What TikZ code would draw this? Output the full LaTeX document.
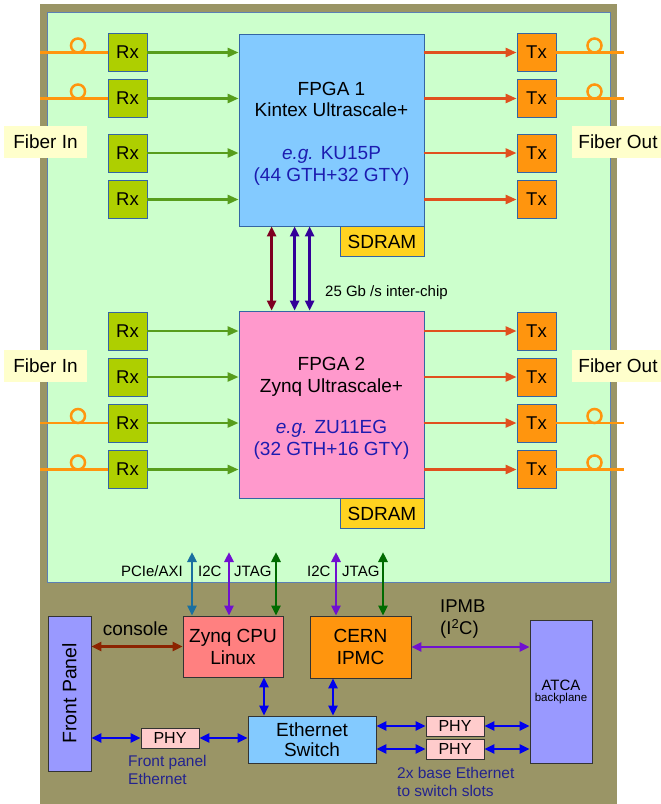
\documentclass[tikz,border=0pt]{standalone}
\usepackage{fontspec}
\setmainfont{Liberation Sans}
\usetikzlibrary{arrows.meta}
\definecolor{olive}{HTML}{9A9566}
\definecolor{panel}{HTML}{CCFFCC}
\definecolor{panelborder}{HTML}{5B7FB5}
\definecolor{boxblue}{HTML}{3465A4}
\definecolor{rxgreen}{HTML}{AECF00}
\definecolor{txorange}{HTML}{FF950E}
\definecolor{fpgablue}{HTML}{83CAFF}
\definecolor{fpgapink}{HTML}{FF99CC}
\definecolor{sdramgold}{HTML}{FFD320}
\definecolor{fiber}{HTML}{FF950E}
\definecolor{rxarrow}{HTML}{579D1C}
\definecolor{txarrow}{HTML}{E0501E}
\definecolor{darkred}{HTML}{7E0021}
\definecolor{indigo}{HTML}{330099}
\definecolor{zynqred}{HTML}{FF8080}
\definecolor{lavender}{HTML}{9999FF}
\definecolor{phypink}{HTML}{FFCCCC}
\definecolor{ethblue}{HTML}{0000EE}
\definecolor{teal}{HTML}{1A6FA0}
\definecolor{purp}{HTML}{7010D0}
\definecolor{jtaggreen}{HTML}{006B00}
\definecolor{consolec}{HTML}{8C2300}
\definecolor{labelyellow}{HTML}{FFFFCC}
\definecolor{textblue}{HTML}{1C1CB0}
\definecolor{notelue}{HTML}{23238E}
\tikzset{
  x=1pt, y=-1pt,
  box/.style={draw=boxblue, line width=0.8pt, inner sep=0pt, align=center},
  darkbox/.style={draw=black!80, line width=0.8pt, inner sep=0pt, align=center},
  rxbox/.style={box, fill=rxgreen, minimum width=39pt, minimum height=38pt, font=\fontsize{18.5}{20}\selectfont},
  txbox/.style={box, fill=txorange, minimum width=39pt, minimum height=38pt, font=\fontsize{18.5}{20}\selectfont},
  fpgabox/.style={box, minimum width=185pt},
  fpgatext/.style={align=center, inner sep=0pt, font=\fontsize{19}{21.5}\selectfont},
  sdrambox/.style={box, fill=sdramgold, minimum width=84pt, minimum height=30pt, font=\fontsize{19}{20}\selectfont, anchor=north east},
  fiberlabel/.style={fill=labelyellow, inner sep=0pt, minimum height=32pt, font=\fontsize{19}{20}\selectfont},
  fiberline/.style={draw=fiber, line width=2.5pt},
  loopc/.style={draw=fiber, line width=2.5pt},
  arr/.style={-{Triangle[length=11pt,width=9pt]}, line width=2.5pt},
  dbl/.style={{Triangle[length=10pt,width=9pt]}-{Triangle[length=10pt,width=9pt]}, line width=2.5pt},
  small/.style={font=\fontsize{15}{17}\selectfont, inner sep=0pt},
  note/.style={font=\fontsize{15.5}{18}\selectfont, text=notelue, align=left, inner sep=0pt, anchor=north west},
  phybox/.style={darkbox, fill=phypink, minimum width=58pt, minimum height=20pt, font=\fontsize{16}{17}\selectfont},
}
\begin{document}
\begin{tikzpicture}
\useasboundingbox (0,0) rectangle (661,804);
% frame and panel
\fill[olive] (40,4) rectangle (617,804);
\filldraw[fill=panel, draw=panelborder, line width=0.8pt] (47,12) rectangle (610,582);

% FPGA 1
\node[fpgabox, fill=fpgablue, minimum height=192pt] (f1) at (331.5,130) {};
\node[fpgatext] (f1t) at ([yshift=-3.5pt]f1.center)
  {FPGA 1\\Kintex Ultrascale+\\[21.5pt]\textcolor{textblue}{\textit{e.g.} KU15P}\\\textcolor{textblue}{(44 GTH+32 GTY)}};
\node[sdrambox] (sd1) at (f1.south east) {SDRAM};
% FPGA 2
\node[fpgabox, fill=fpgapink, minimum height=187pt] (f2) at (331.5,404.5) {};
\node[fpgatext] (f2t) at ([yshift=-4pt]f2.center)
  {FPGA 2\\Zynq Ultrascale+\\[20pt]\textcolor{textblue}{\textit{e.g.} ZU11EG}\\\textcolor{textblue}{(32 GTH+16 GTY)}};
\node[sdrambox] (sd2) at (f2.south east) {SDRAM};

% Rx / Tx top
\foreach \i/\y in {1/52.5,2/98.5,3/153,4/199.5}{
  \node[rxbox] (rxa\i) at (127.5,\y) {Rx};
  \node[txbox] (txa\i) at (536.5,\y) {Tx};
  \draw[arr, rxarrow] (rxa\i.east) -- (rxa\i.east -| f1.west);
  \draw[arr, txarrow] (txa\i.west -| f1.east) -- (txa\i.west);
}
\foreach \i/\y in {1/331,2/377,3/423,4/469.5}{
  \node[rxbox] (rxb\i) at (127.5,\y) {Rx};
  \node[txbox] (txb\i) at (536.5,\y) {Tx};
  \draw[arr, rxarrow] (rxb\i.east) -- (rxb\i.east -| f2.west);
  \draw[arr, txarrow] (txb\i.west -| f2.east) -- (txb\i.west);
}

% fibers
\foreach \r in {rxa1,rxa2,rxb3,rxb4}{
  \coordinate (in-\r) at (40,0 |- \r.west);
  \draw[fiberline] (in-\r) -- (\r.west);
  \draw[loopc] ([yshift=7pt]\r.west -| 78,0) circle (7pt);
}
\foreach \t in {txa1,txa2,txb3,txb4}{
  \coordinate (out-\t) at (\t.east -| 624,0);
  \draw[fiberline] (\t.east) -- (out-\t);
  \draw[loopc] ([yshift=7pt]\t.east -| 594.5,0) circle (7pt);
}

% fiber labels
\node[fiberlabel, minimum width=83pt] (fin1) at (45.5,142) {Fiber In};
\node[fiberlabel, minimum width=83pt] (fin2) at (45.5,366) {Fiber In};
\node[fiberlabel, minimum width=92pt] (fout1) at (618,142) {Fiber Out};
\node[fiberlabel, minimum width=92pt] (fout2) at (618,366) {Fiber Out};

% inter-chip
\draw[dbl, darkred] ([xshift=33pt]f1.south west) -- ([xshift=33pt]f2.north west);
\draw[dbl, indigo] ([xshift=56pt]f1.south west) -- ([xshift=56pt]f2.north west);
\draw[dbl, indigo] ([xshift=71pt]f1.south west) -- ([xshift=71pt]f2.north west);
\node[small, anchor=west] (ic) at (325,293) {25 Gb /s inter-chip};

% bottom boxes
\node[darkbox, fill=zynqred, minimum width=100pt, minimum height=61pt, font=\fontsize{19}{22}\selectfont] (zynq) at (233,646.5) {Zynq CPU\\Linux};
\node[darkbox, fill=txorange, minimum width=101pt, minimum height=62pt, font=\fontsize{19}{22}\selectfont] (ipmc) at (360.5,647) {CERN\\IPMC};
\node[darkbox, fill=lavender, minimum width=43pt, minimum height=155pt] (front) at (69.5,693.5) {};
\node[rotate=90, font=\fontsize{19.5}{20}\selectfont, inner sep=0pt] (frontlabel) at (front.center) {Front Panel};
\node[darkbox, fill=lavender, minimum width=62pt, minimum height=143pt] (atca) at (561,691.5)
  {{\fontsize{15}{16}\selectfont ATCA}\\[-1pt]{\fontsize{11.5}{13}\selectfont backplane}};
\node[darkbox, fill=fpgablue, minimum width=128pt, minimum height=47pt, font=\fontsize{19}{20.5}\selectfont] (switch) at (312,739.5) {Ethernet\\Switch};
\node[phybox] (phyf) at (170,738) {PHY};
\node[phybox] (phy1) at (455,726) {PHY};
\node[phybox] (phy2) at (455,749) {PHY};

% vertical links into FPGA panel
\coordinate (cpcie) at (192,552);
\coordinate (ci2ca) at (229,552);
\coordinate (cjtaga) at (276,552);
\coordinate (ci2cb) at (336,552);
\coordinate (cjtagb) at (383,552);
\draw[dbl, teal] (cpcie) -- (cpcie |- zynq.north);
\draw[dbl, purp] (ci2ca) -- (ci2ca |- zynq.north);
\draw[dbl, jtaggreen] (cjtaga) -- (cjtaga |- zynq.north);
\draw[dbl, purp] (ci2cb) -- (ci2cb |- ipmc.north);
\draw[dbl, jtaggreen] (cjtagb) -- (cjtagb |- ipmc.north);
\node[small, anchor=east] (lpcie) at (183,571) {PCIe/AXI};
\node[small, anchor=west] (li2ca) at (198,571) {I2C};
\node[small, anchor=west] (ljtaga) at (234,571) {JTAG};
\node[small, anchor=west] (li2cb) at (307,571) {I2C};
\node[small, anchor=west] (ljtagb) at (342,571) {JTAG};

% console, IPMB
\draw[dbl, consolec] (zynq.west -| front.east) -- (zynq.west);
\node[font=\fontsize{19}{20}\selectfont, inner sep=0pt] (lcons) at (135.5,629) {console};
\draw[dbl, purp] (ipmc.east) -- (ipmc.east -| atca.west);
\node[font=\fontsize{18.5}{22}\selectfont, inner sep=0pt, align=left, anchor=north west] (lipmb) at (440,600) {IPMB\\(I\textsuperscript{2}C)};

% ethernet links
\draw[dbl, ethblue] ([xshift=31pt]zynq.south) -- ([xshift=31pt]zynq.south |- switch.north);
\draw[dbl, ethblue] ([xshift=-27.5pt]ipmc.south) -- ([xshift=-27.5pt]ipmc.south |- switch.north);
\draw[dbl, ethblue] (phyf.west -| front.east) -- (phyf.west);
\draw[dbl, ethblue] (phyf.east) -- (phyf.east -| switch.west);
\draw[dbl, ethblue] (phy1.west -| switch.east) -- (phy1.west);
\draw[dbl, ethblue] (phy2.west -| switch.east) -- (phy2.west);
\draw[dbl, ethblue] (phy1.east) -- (phy1.east -| atca.west);
\draw[dbl, ethblue] (phy2.east) -- (phy2.east -| atca.west);

\node[note] (nfront) at (128,755) {Front panel\\Ethernet};
\node[note] (nbase) at (397,767) {2x base Ethernet\\to switch slots};
\end{tikzpicture}
\end{document}
